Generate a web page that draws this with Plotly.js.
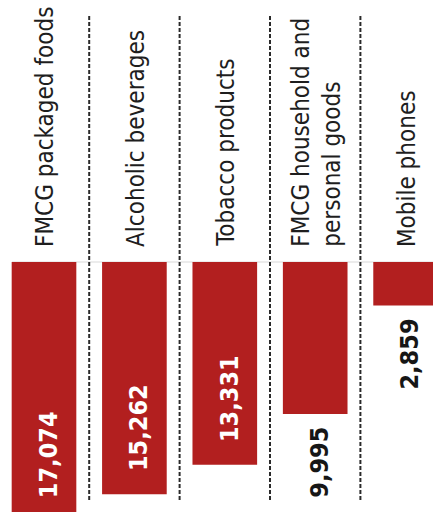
<!DOCTYPE html>
<html>
<head>
<meta charset="utf-8">
<script src="https://cdn.plot.ly/plotly-3.0.1.min.js"></script>
<style>
html, body { margin:0; padding:0; background:#fff; overflow:hidden; }
#wrap { width:433px; height:512px; overflow:hidden; position:relative; }
#chart { width:445px; height:540px; }
</style>
</head>
<body>
<div id="wrap"><div id="chart"></div></div>
<script>
// Data
var categories = ["FMCG packaged foods", "Alcoholic beverages", "Tobacco products", "FMCG household and<br>personal goods", "Mobile phones"];
var values = [17074, 15262, 13331, 9995, 2859];
var valueLabels = ["17,074", "15,262", "13,331", "9,995", "2,859"];

var RED = '#b21f1f';
var FONT = '"DejaVu Sans Condensed", "Liberation Sans Narrow", sans-serif';
var maxV = Math.max.apply(null, values);

var trace = {
  type: 'bar',
  x: categories.map(function(c, i){ return i; }),
  y: values,
  width: 0.715,
  marker: { color: RED, line: { width: 0 } },
  hoverinfo: 'none'
};

var annotations = [];
var shapes = [];

categories.forEach(function(c, i) {
  annotations.push({
    xref: 'x', yref: 'paper', x: i, y: (540 - 248) / 540,
    xanchor: 'center', yanchor: 'bottom', xshift: 1,
    text: c, showarrow: false, textangle: -90, align: 'left',
    font: { family: FONT, size: 24, color: '#1e1e1e' },
    borderpad: 0
  });
});

values.forEach(function(v, i) {
  var inside = v > 0.7 * maxV;
  annotations.push({
    xref: 'x', yref: 'y', x: i, y: v,
    xanchor: 'center', yanchor: inside ? 'bottom' : 'top',
    xshift: 4, yshift: inside ? 22 : -12,
    text: valueLabels[i], showarrow: false, textangle: -90,
    font: { family: FONT, size: 25, color: inside ? '#ffffff' : '#161616', weight: 'bold' },
    borderpad: 0
  });
});

for (var k = 0; k < categories.length - 1; k++) {
  shapes.push({
    type: 'line', xref: 'x', yref: 'paper',
    x0: k + 0.5, x1: k + 0.5,
    y0: (540 - 500) / 540, y1: (540 - 15) / 540,
    line: { color: '#2a2a2a', width: 2, dash: '4px,2px' },
    layer: 'above'
  });
}
shapes.push({
  type: 'line', xref: 'paper', yref: 'y',
  x0: 12 / 445, x1: 1, y0: 0, y1: 0,
  line: { color: '#d9d9d9', width: 1 }, layer: 'below'
});

var pxPerUnit = 0.01521;
var layout = {
  width: 445, height: 540,
  margin: { l: 0, r: 0, t: 0, b: 0, pad: 0 },
  paper_bgcolor: '#ffffff', plot_bgcolor: '#ffffff',
  showlegend: false,
  xaxis: { type: 'linear', range: [-44 / 90.4, (445 - 44) / 90.4], visible: false, showgrid: false, zeroline: false, fixedrange: true },
  yaxis: { range: [(540 - 262) / pxPerUnit, -262 / pxPerUnit], visible: false, showgrid: false, zeroline: false, fixedrange: true },
  annotations: annotations,
  shapes: shapes
};

Plotly.newPlot('chart', [trace], layout, { displayModeBar: false, staticPlot: true });
</script>
</body>
</html>
